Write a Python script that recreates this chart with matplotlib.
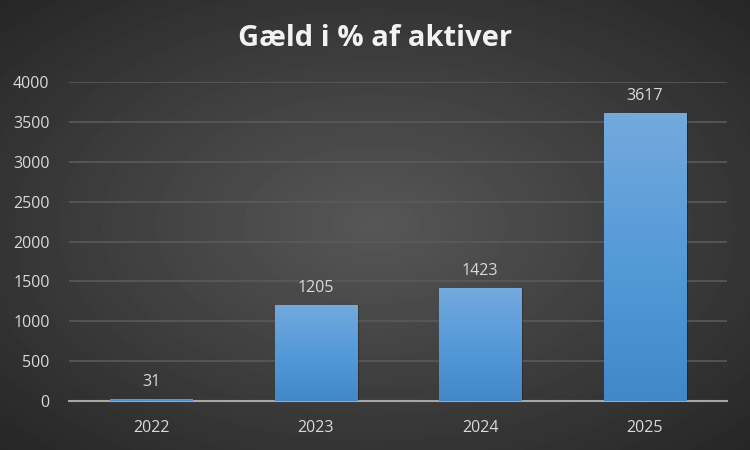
import matplotlib
matplotlib.use('Agg')
import matplotlib.pyplot as plt
import numpy as np

years = ['2022', '2023', '2024', '2025']
values = [31, 1205, 1423, 3617]
yticks = [0, 500, 1000, 1500, 2000, 2500, 3000, 3500, 4000]

plt.rcParams['font.family'] = ['Open Sans', 'DejaVu Sans']

fig = plt.figure(figsize=(7.5, 4.5), dpi=100)

# radial gray background
bg = fig.add_axes([0, 0, 1, 1])
yy, xx = np.mgrid[-1:1:450j, -1:1:750j]
r = np.sqrt(xx ** 2 + yy ** 2) / np.sqrt(2)
bg.imshow(0.34 - 0.19 * r, cmap='gray', vmin=0, vmax=1, aspect='auto',
          extent=[0, 1, 0, 1])
bg.set_axis_off()

ax = fig.add_axes([69 / 750, 49 / 450, 658 / 750, 319 / 450])
ax.patch.set_alpha(0)
x = np.arange(len(years))
bars = ax.bar(x, values, width=0.5, color='#5b9bd5', zorder=3)

# vertical gradient on bars
grad = np.linspace(0, 1, 256).reshape(-1, 1)
cmap = matplotlib.colors.LinearSegmentedColormap.from_list(
    'bar', ['#4287c7', '#559ad9', '#74aadd'])
for b in bars:
    x0, w, h = b.get_x(), b.get_width(), b.get_height()
    ax.bar(x0 + w / 2 + 0.012, h, width=w, color='black', alpha=0.25, zorder=2)
    im = ax.imshow(grad, cmap=cmap, aspect='auto', origin='lower',
                   extent=[x0, x0 + w, 0, h], zorder=3)
    im.set_clip_path(b)
    ax.text(x0 + w / 2, h + 110, str(int(h)), ha='center', va='bottom',
            color='#d9d9d9', fontsize=11.5, zorder=4)

ax.set_xlim(-0.5, len(years) - 0.5)
ax.set_ylim(0, 4000)
ax.set_xticks(x)
ax.set_xticklabels(years)
ax.set_yticks(yticks)
ax.tick_params(colors='#d9d9d9', labelsize=11.5, length=0)
ax.tick_params(axis='x', pad=14)
ax.tick_params(axis='y', pad=14)
ax.grid(axis='y', color='#5a5a5a', linewidth=1.2, zorder=0)
for s in ['top', 'right', 'left']:
    ax.spines[s].set_visible(False)
ax.spines['bottom'].set_color('#a6a6a6')
ax.spines['bottom'].set_linewidth(1.5)
ax.spines['bottom'].set_zorder(2.5)

fig.text(0.5, 1 - 38 / 450, 'Gæld i % af aktiver', ha='center', va='center',
         color='#f2f2f2', fontsize=21, fontweight='bold')

fig.savefig('out.png', dpi=100)
